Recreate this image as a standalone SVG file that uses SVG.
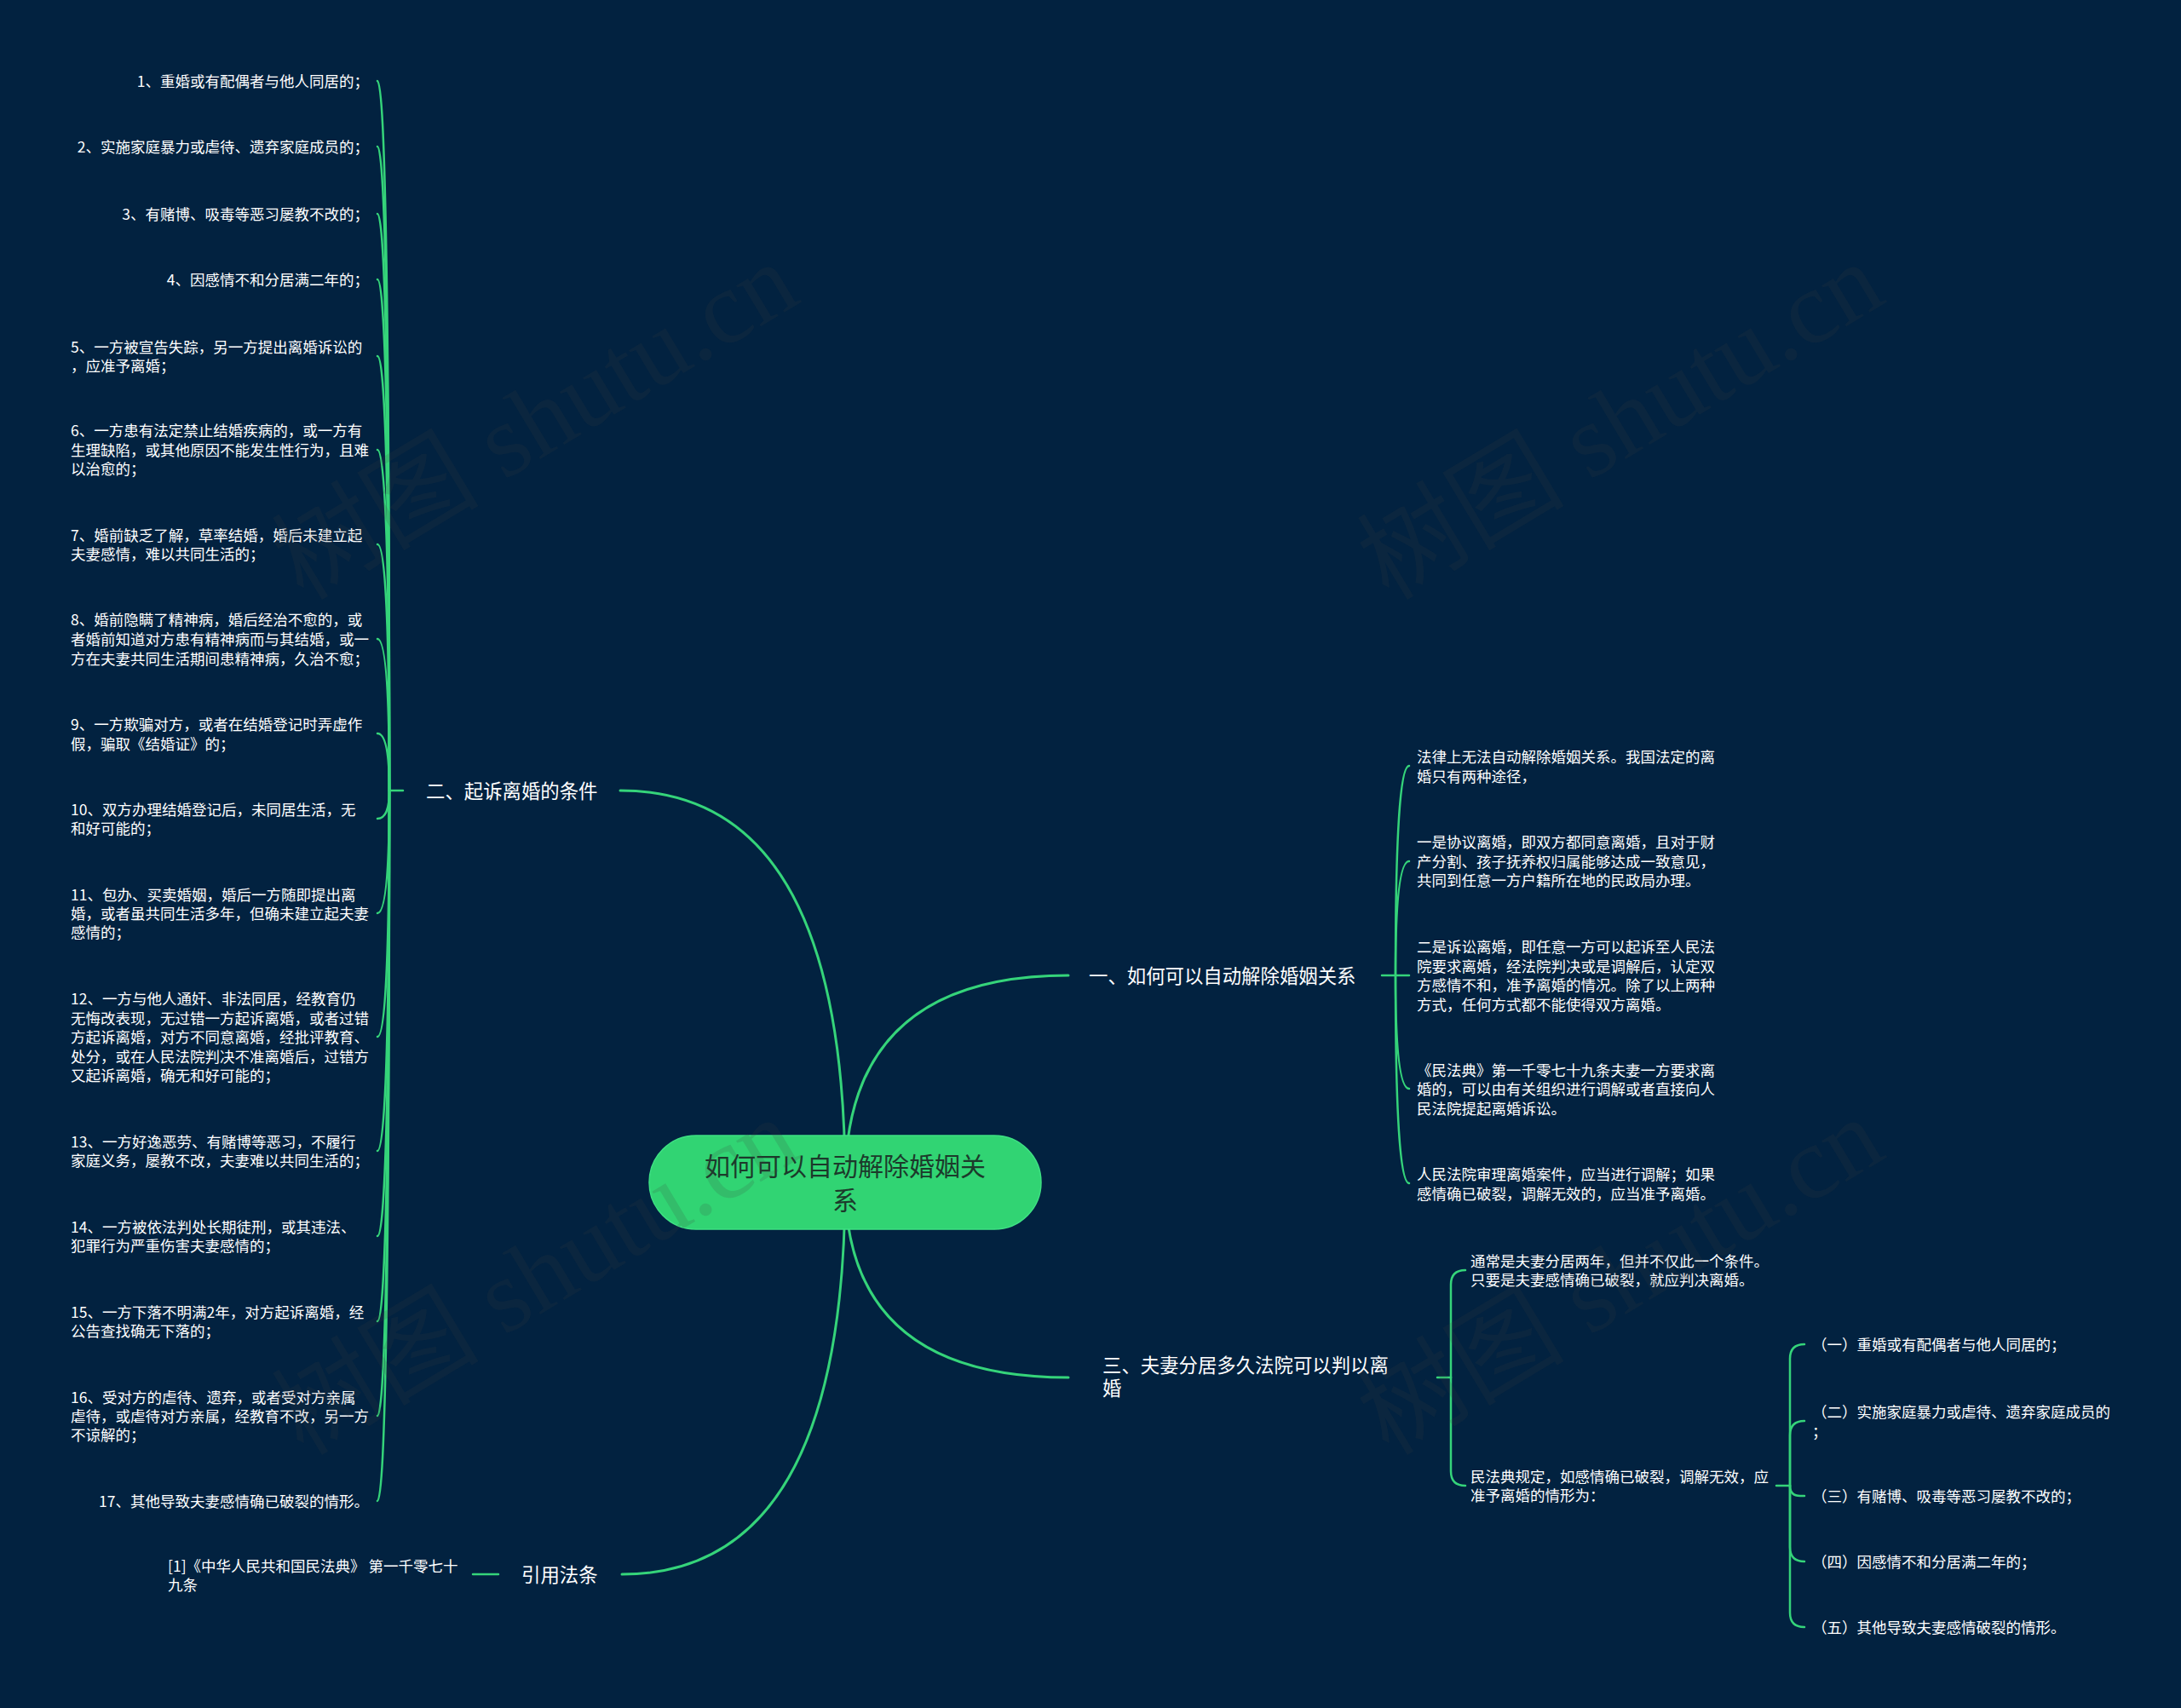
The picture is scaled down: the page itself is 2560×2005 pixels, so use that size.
<svg xmlns="http://www.w3.org/2000/svg" width="2560" height="2005" viewBox="0 0 2560 2005">
<style>
.t{font-family:"Noto Sans CJK SC","Noto Sans",sans-serif;font-size:17.5px;fill:#ffffff}
.b{font-family:"Noto Sans CJK SC","Noto Sans",sans-serif;font-size:22.4px;fill:#ffffff}
.c{font-family:"Noto Sans CJK SC","Noto Sans",sans-serif;font-size:30px;fill:#1c3a2b}
.wm{font-family:"Liberation Serif","Noto Sans CJK SC",serif;font-size:122px;fill:#404040;fill-opacity:0.16}
.ln{fill:none;stroke:#35d47a;stroke-width:2.5;stroke-linecap:round}
.mn{fill:none;stroke:#35d47a;stroke-width:3;stroke-linecap:round}
</style>
<rect width="2560" height="2005" fill="#022240"/>
<g id="connectors">
<path class="mn" d="M992 1388 Q992 928 728 928"/>
<path class="mn" d="M992 1388 Q992 1145 1254 1145"/>
<path class="mn" d="M992 1388 Q992 1617 1254 1617"/>
<path class="mn" d="M992 1388 Q992 1848 730 1848"/>
<path class="ln" d="M473 928 L457 928"/>
<path class="ln" d="M457 928 Q457 95 443 95"/>
<path class="ln" d="M457 928 Q457 172 443 172"/>
<path class="ln" d="M457 928 Q457 251 443 251"/>
<path class="ln" d="M457 928 Q457 328 443 328"/>
<path class="ln" d="M457 928 Q457 418 443 418"/>
<path class="ln" d="M457 928 Q457 528 443 528"/>
<path class="ln" d="M457 928 Q457 639 443 639"/>
<path class="ln" d="M457 928 Q457 750 443 750"/>
<path class="ln" d="M457 928 Q457 861 443 861"/>
<path class="ln" d="M457 928 Q457 961 443 961"/>
<path class="ln" d="M457 928 Q457 1072 443 1072"/>
<path class="ln" d="M457 928 Q457 1217 443 1217"/>
<path class="ln" d="M457 928 Q457 1351 443 1351"/>
<path class="ln" d="M457 928 Q457 1451 443 1451"/>
<path class="ln" d="M457 928 Q457 1551 443 1551"/>
<path class="ln" d="M457 928 Q457 1662 443 1662"/>
<path class="ln" d="M457 928 Q457 1762 443 1762"/>
<path class="ln" d="M1622 1145 L1654 1145"/>
<path class="ln" d="M1638 1145 Q1638 899 1654 899"/>
<path class="ln" d="M1638 1145 Q1638 1011 1654 1011"/>
<path class="ln" d="M1638 1145 Q1638 1278 1654 1278"/>
<path class="ln" d="M1638 1145 Q1638 1389 1654 1389"/>
<path class="ln" d="M1687 1617 L1703 1617"/>
<path class="ln" d="M1703 1617 L1703 1508 Q1703 1491 1720 1491"/>
<path class="ln" d="M1703 1617 L1703 1727 Q1703 1744 1720 1744"/>
<path class="ln" d="M2085 1744 L2101 1744"/>
<path class="ln" d="M2101 1744 L2101 1595 Q2101 1578 2118 1578"/>
<path class="ln" d="M2101 1744 L2101 1685 Q2101 1668 2118 1668"/>
<path class="ln" d="M2101 1744 Q2101 1756 2113 1756 L2118 1756"/>
<path class="ln" d="M2101 1744 L2101 1816 Q2101 1833 2118 1833"/>
<path class="ln" d="M2101 1744 L2101 1893 Q2101 1910 2118 1910"/>
<path class="ln" d="M585 1848 L555 1848"/>
</g>
<g id="root">
<rect x="762" y="1333" width="460" height="110" rx="55" fill="#31d473" stroke="#3ee083" stroke-width="1.5"/>
<text class="c" x="992" y="1380" text-anchor="middle">如何可以自动解除婚姻关</text>
<text class="c" x="992" y="1420" text-anchor="middle">系</text>
</g>
<g id="b1"><text class="b" x="1278" y="1153.5">一、如何可以自动解除婚姻关系</text></g>
<g id="b2"><text class="b" x="500" y="936.5">二、起诉离婚的条件</text></g>
<g id="b3"><text class="b" x="1294" y="1611">三、夫妻分居多久法院可以判以离</text><text class="b" x="1294" y="1638">婚</text></g>
<g id="b4"><text class="b" x="612" y="1856.5">引用法条</text></g>
<g id="l1"><text class="t" x="433" y="101.6" text-anchor="end">1、重婚或有配偶者与他人同居的；</text></g>
<g id="l2"><text class="t" x="433" y="178.6" text-anchor="end">2、实施家庭暴力或虐待、遗弃家庭成员的；</text></g>
<g id="l3"><text class="t" x="433" y="257.6" text-anchor="end">3、有赌博、吸毒等恶习屡教不改的；</text></g>
<g id="l4"><text class="t" x="433" y="334.6" text-anchor="end">4、因感情不和分居满二年的；</text></g>
<g id="l5"><text class="t" x="83" y="413.6">5、一方被宣告失踪，另一方提出离婚诉讼的</text><text class="t" x="83" y="435.6">，应准予离婚；</text></g>
<g id="l6"><text class="t" x="83" y="511.6">6、一方患有法定禁止结婚疾病的，或一方有</text><text class="t" x="83" y="534.6">生理缺陷，或其他原因不能发生性行为，且难</text><text class="t" x="83" y="556.6">以治愈的；</text></g>
<g id="l7"><text class="t" x="83" y="634.6">7、婚前缺乏了解，草率结婚，婚后未建立起</text><text class="t" x="83" y="656.6">夫妻感情，难以共同生活的；</text></g>
<g id="l8"><text class="t" x="83" y="733.6">8、婚前隐瞒了精神病，婚后经治不愈的，或</text><text class="t" x="83" y="756.6">者婚前知道对方患有精神病而与其结婚，或一</text><text class="t" x="83" y="779.6">方在夫妻共同生活期间患精神病，久治不愈；</text></g>
<g id="l9"><text class="t" x="83" y="856.6">9、一方欺骗对方，或者在结婚登记时弄虚作</text><text class="t" x="83" y="879.6">假，骗取《结婚证》的；</text></g>
<g id="l10"><text class="t" x="83" y="956.6">10、双方办理结婚登记后，未同居生活，无</text><text class="t" x="83" y="978.6">和好可能的；</text></g>
<g id="l11"><text class="t" x="83" y="1056.6">11、包办、买卖婚姻，婚后一方随即提出离</text><text class="t" x="83" y="1078.6">婚，或者虽共同生活多年，但确未建立起夫妻</text><text class="t" x="83" y="1100.6">感情的；</text></g>
<g id="l12"><text class="t" x="83" y="1178.6">12、一方与他人通奸、非法同居，经教育仍</text><text class="t" x="83" y="1201.6">无悔改表现，无过错一方起诉离婚，或者过错</text><text class="t" x="83" y="1223.6">方起诉离婚，对方不同意离婚，经批评教育、</text><text class="t" x="83" y="1246.6">处分，或在人民法院判决不准离婚后，过错方</text><text class="t" x="83" y="1268.6">又起诉离婚，确无和好可能的；</text></g>
<g id="l13"><text class="t" x="83" y="1346.6">13、一方好逸恶劳、有赌博等恶习，不履行</text><text class="t" x="83" y="1368.6">家庭义务，屡教不改，夫妻难以共同生活的；</text></g>
<g id="l14"><text class="t" x="83" y="1446.6">14、一方被依法判处长期徒刑，或其违法、</text><text class="t" x="83" y="1468.6">犯罪行为严重伤害夫妻感情的；</text></g>
<g id="l15"><text class="t" x="83" y="1546.6">15、一方下落不明满2年，对方起诉离婚，经</text><text class="t" x="83" y="1568.6">公告查找确无下落的；</text></g>
<g id="l16"><text class="t" x="83" y="1646.6">16、受对方的虐待、遗弃，或者受对方亲属</text><text class="t" x="83" y="1668.6">虐待，或虐待对方亲属，经教育不改，另一方</text><text class="t" x="83" y="1690.6">不谅解的；</text></g>
<g id="l17"><text class="t" x="433" y="1768.6" text-anchor="end">17、其他导致夫妻感情确已破裂的情形。</text></g>
<g id="r1"><text class="t" x="1663" y="894.6">法律上无法自动解除婚姻关系。我国法定的离</text><text class="t" x="1663" y="917.6">婚只有两种途径，</text></g>
<g id="r2"><text class="t" x="1663" y="994.6">一是协议离婚，即双方都同意离婚，且对于财</text><text class="t" x="1663" y="1017.6">产分割、孩子抚养权归属能够达成一致意见，</text><text class="t" x="1663" y="1039.6">共同到任意一方户籍所在地的民政局办理。</text></g>
<g id="r3"><text class="t" x="1663" y="1117.6">二是诉讼离婚，即任意一方可以起诉至人民法</text><text class="t" x="1663" y="1140.6">院要求离婚，经法院判决或是调解后，认定双</text><text class="t" x="1663" y="1162.6">方感情不和，准予离婚的情况。除了以上两种</text><text class="t" x="1663" y="1185.6">方式，任何方式都不能使得双方离婚。</text></g>
<g id="r4"><text class="t" x="1663" y="1262.6">《民法典》第一千零七十九条夫妻一方要求离</text><text class="t" x="1663" y="1284.6">婚的，可以由有关组织进行调解或者直接向人</text><text class="t" x="1663" y="1307.6">民法院提起离婚诉讼。</text></g>
<g id="r5"><text class="t" x="1663" y="1384.6">人民法院审理离婚案件，应当进行调解；如果</text><text class="t" x="1663" y="1407.6">感情确已破裂，调解无效的，应当准予离婚。</text></g>
<g id="s1"><text class="t" x="1726" y="1486.6">通常是夫妻分居两年，但并不仅此一个条件。</text><text class="t" x="1726" y="1508.6">只要是夫妻感情确已破裂，就应判决离婚。</text></g>
<g id="s2"><text class="t" x="1726" y="1739.6">民法典规定，如感情确已破裂，调解无效，应</text><text class="t" x="1726" y="1761.6">准予离婚的情形为：</text></g>
<g id="m1"><text class="t" x="2127" y="1584.6">（一）重婚或有配偶者与他人同居的；</text></g>
<g id="m2"><text class="t" x="2127" y="1663.6">（二）实施家庭暴力或虐待、遗弃家庭成员的</text><text class="t" x="2127" y="1686.6">；</text></g>
<g id="m3"><text class="t" x="2127" y="1762.6">（三）有赌博、吸毒等恶习屡教不改的；</text></g>
<g id="m4"><text class="t" x="2127" y="1839.6">（四）因感情不和分居满二年的；</text></g>
<g id="m5"><text class="t" x="2127" y="1916.6">（五）其他导致夫妻感情破裂的情形。</text></g>
<g id="ref1"><text class="t" x="197" y="1844.6">[1]《中华人民共和国民法典》 第一千零七十</text><text class="t" x="197" y="1866.6">九条</text></g>
<g id="watermarks">
<text class="wm" x="356" y="706" transform="rotate(-31 356 706)">树图 shutu.cn</text>
<text class="wm" x="1630" y="706" transform="rotate(-31 1630 706)">树图 shutu.cn</text>
<text class="wm" x="356" y="1710" transform="rotate(-31 356 1710)">树图 shutu.cn</text>
<text class="wm" x="1630" y="1710" transform="rotate(-31 1630 1710)">树图 shutu.cn</text>
</g>
</svg>
